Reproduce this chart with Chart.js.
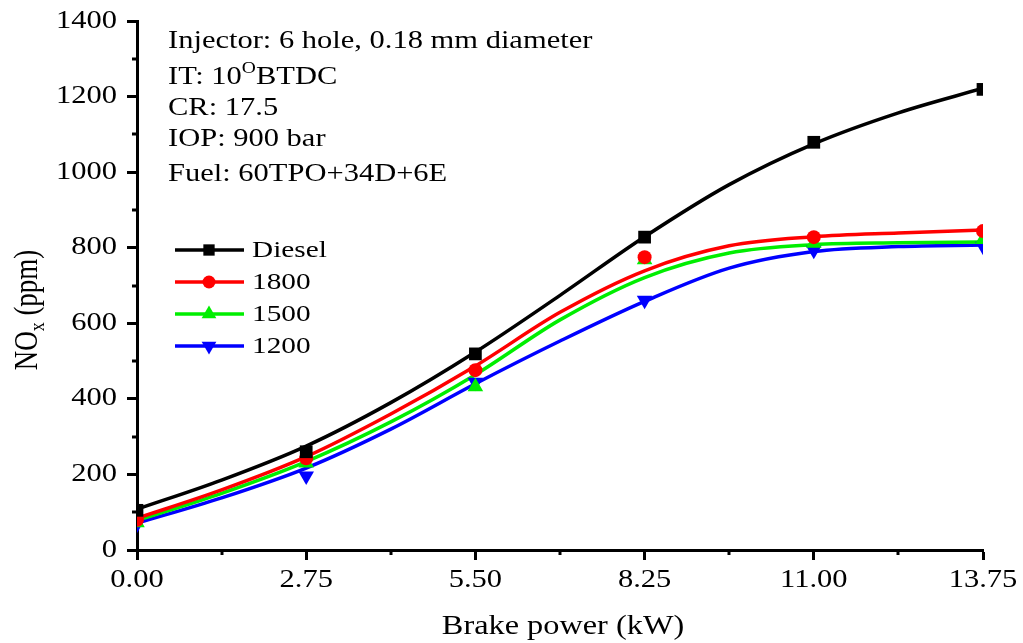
<!DOCTYPE html>
<html><head><meta charset="utf-8">
<script src="https://cdn.jsdelivr.net/npm/chart.js@4.4.0/dist/chart.umd.min.js"></script>
<style>html,body{margin:0;padding:0;background:#fff}#wrap{width:1023px;height:643px}</style>
</head><body><div id="wrap"><canvas id="c" width="1023" height="643"></canvas></div>
<script>
// measured points
const xPoints = [0, 2.75, 5.5, 8.25, 11, 13.75];
const dieselPts = [105, 260, 519, 828, 1079, 1219];
const r1800Pts = [80, 243, 476, 775, 828, 844];
const r1500Pts = [72, 230, 432, 768, 812, 822];
const r1200Pts = [68, 196, 444, 661, 793, 804];
// fitted curves
const xCurve = [0, 1.375, 2.75, 4.125, 5.5, 6.875, 8.25, 9.625, 11, 12.375, 13.75];
const dieselFit = [108, 185, 275, 390, 524, 674, 829, 967, 1075, 1157, 1222];
const r1800Fit = [84, 159, 247, 360, 487, 629, 739, 805, 829, 839, 847];
const r1500Fit = [78, 150, 234, 339, 464, 609, 721, 786, 808, 813, 815];
const r1200Fit = [71, 138, 217, 320, 440, 553, 658, 746, 790, 803, 807];
const seriesNames = ['Diesel', '1800', '1500', '1200'];
const xTickLabels = ['0.00', '2.75', '5.50', '8.25', '11.00', '13.75'];
const yTickLabels = ['0', '200', '400', '600', '800', '1000', '1200', '1400'];
const infoLines = ['Injector: 6 hole, 0.18 mm diameter', 'IT: 10|O|BTDC', 'CR: 17.5', 'IOP: 900 bar', 'Fuel: 60TPO+34D+6E'];

const colors = ['#000000', '#ff0000', '#00ee00', '#0000ff'];
const styles = [{s:'rect',r:9,rot:0},{s:'circle',r:7,rot:0},{s:'triangle',r:9,rot:0},{s:'triangle',r:9,rot:180}];
const legStyles = [{s:'rect',r:8,rot:0},{s:'circle',r:6.5,rot:0},{s:'triangle',r:8.5,rot:0},{s:'triangle',r:8.5,rot:180}];
const pts = [dieselPts, r1800Pts, r1500Pts, r1200Pts];
const fits = [dieselFit, r1800Fit, r1500Fit, r1200Fit];

const datasets = [];
fits.forEach((f, i) => {
  datasets.push({type:'line', label: seriesNames[i]+' fit', data: xCurve.map((x,j)=>({x, y:f[j]})),
    borderColor: colors[i], borderWidth: 3.5, pointRadius: 0, cubicInterpolationMode: 'monotone', fill:false, order: 2});
});
pts.forEach((p, i) => {
  datasets.push({type:'scatter', label: seriesNames[i], data: xPoints.map((x,j)=>({x, y:p[j]})),
    backgroundColor: colors[i], borderColor: colors[i], borderWidth: 0, pointStyle: styles[i].s,
    pointRadius: styles[i].r, pointRotation: styles[i].rot, showLine:false, order: 1});
});

const FONT = '"Liberation Serif", "Times New Roman", serif';
const SX = 1.22;
function stretchText(ctx, txt, x, y, size, align) {
  ctx.save();
  ctx.font = size + 'px ' + FONT;
  const w = ctx.measureText(txt).width * SX;
  let x0 = x;
  if (align === 'center') x0 = x - w/2; else if (align === 'right') x0 = x - w;
  ctx.translate(x0, y);
  ctx.scale(SX, 1);
  ctx.textAlign = 'left';
  ctx.fillText(txt, 0, 0);
  ctx.restore();
  return w;
}

const custom = {
  id: 'custom',
  afterDraw(chart) {
    const ctx = chart.ctx;
    const xs = chart.scales.x, ys = chart.scales.y;
    ctx.save();
    ctx.fillStyle = '#000'; ctx.strokeStyle = '#000';
    // minor ticks
    ctx.lineWidth = 3;
    for (let i = 0; i < xTickLabels.length - 1; i++) {
      const v = (parseFloat(xTickLabels[i]) + parseFloat(xTickLabels[i+1]))/2;
      const px = Math.round(xs.getPixelForValue(v));
      ctx.beginPath(); ctx.moveTo(px, ys.bottom); ctx.lineTo(px, ys.bottom + 5); ctx.stroke();
    }
    for (let i = 0; i < yTickLabels.length - 1; i++) {
      const v = (parseFloat(yTickLabels[i]) + parseFloat(yTickLabels[i+1]))/2;
      const py = Math.round(ys.getPixelForValue(v));
      ctx.beginPath(); ctx.moveTo(xs.left, py); ctx.lineTo(xs.left - 5, py); ctx.stroke();
    }
    // tick labels
    ctx.textBaseline = 'middle';
    xTickLabels.forEach(t => {
      stretchText(ctx, t, xs.getPixelForValue(parseFloat(t)), 580, 25, 'center');
    });
    yTickLabels.forEach(t => {
      stretchText(ctx, t, 117, ys.getPixelForValue(parseFloat(t)) , 25, 'right');
    });
    // x title
    ctx.textBaseline = 'alphabetic';
    stretchText(ctx, 'Brake power (kW)', 563, 634, 26.5, 'center');
    // y title (rotated; the stretch goes across the text)
    ctx.save();
    ctx.translate(37, 310); ctx.rotate(-Math.PI/2); ctx.scale(1, SX);
    ctx.textAlign = 'left';
    ctx.font = '27px ' + FONT;
    const a = 'NO', b = 'x', c = ' (ppm)';
    const wa = ctx.measureText(a).width;
    ctx.font = '18px ' + FONT; const wb = ctx.measureText(b).width;
    ctx.font = '27px ' + FONT; const wc = ctx.measureText(c).width;
    let x0 = -(wa+wb+wc)/2;
    ctx.fillText(a, x0, 0);
    ctx.font = '18px ' + FONT; ctx.fillText(b, x0+wa, 6);
    ctx.font = '27px ' + FONT; ctx.fillText(c, x0+wa+wb, 0);
    ctx.restore();
    // info text
    const base = [48, 84, 115, 146, 181];
    infoLines.forEach((ln, i) => {
      const parts = ln.split('|');
      let x = 168;
      parts.forEach((p, k) => {
        if (k === 1) { x += stretchText(ctx, p, x, base[i]-11, 16, 'left'); }
        else { x += stretchText(ctx, p, x, base[i], 25, 'left'); }
      });
    });
    // legend
    const ly = [250, 282, 314, 346];
    seriesNames.forEach((n, i) => {
      ctx.strokeStyle = colors[i]; ctx.lineWidth = 3.5;
      ctx.beginPath(); ctx.moveTo(175, ly[i]); ctx.lineTo(244, ly[i]); ctx.stroke();
      ctx.fillStyle = colors[i];
      Chart.helpers.drawPoint(ctx, {pointStyle: legStyles[i].s, radius: legStyles[i].r, rotation: legStyles[i].rot, borderWidth: 0}, 209, ly[i]);
      ctx.fillStyle = '#000';
      ctx.textBaseline = 'middle';
      stretchText(ctx, n, 252, ly[i]+1, 24, 'left');
    });
    ctx.restore();
  }
};

new Chart(document.getElementById('c'), {
  data: { datasets },
  options: {
    responsive: false, animation: false, devicePixelRatio: 1,
    layout: { padding: { left: 0, right: 40, top: 21, bottom: 0 } },
    plugins: { legend: { display: false }, tooltip: { enabled: false } },
    scales: {
      x: { type: 'linear', min: 0, max: 13.75,
        ticks: { stepSize: 2.75, display: false },
        grid: { drawOnChartArea: false, drawTicks: true, tickLength: 10, tickWidth: 3, tickColor: '#000' },
        border: { color: '#000', width: 3 },
        afterFit(s) { s.height = 93; } },
      y: { type: 'linear', min: 0, max: 1400,
        ticks: { stepSize: 200, display: false },
        grid: { drawOnChartArea: false, drawTicks: true, tickLength: 10, tickWidth: 3, tickColor: '#000' },
        border: { color: '#000', width: 3 },
        afterFit(s) { s.width = 137; } }
    }
  },
  plugins: [custom]
});
</script></body></html>
